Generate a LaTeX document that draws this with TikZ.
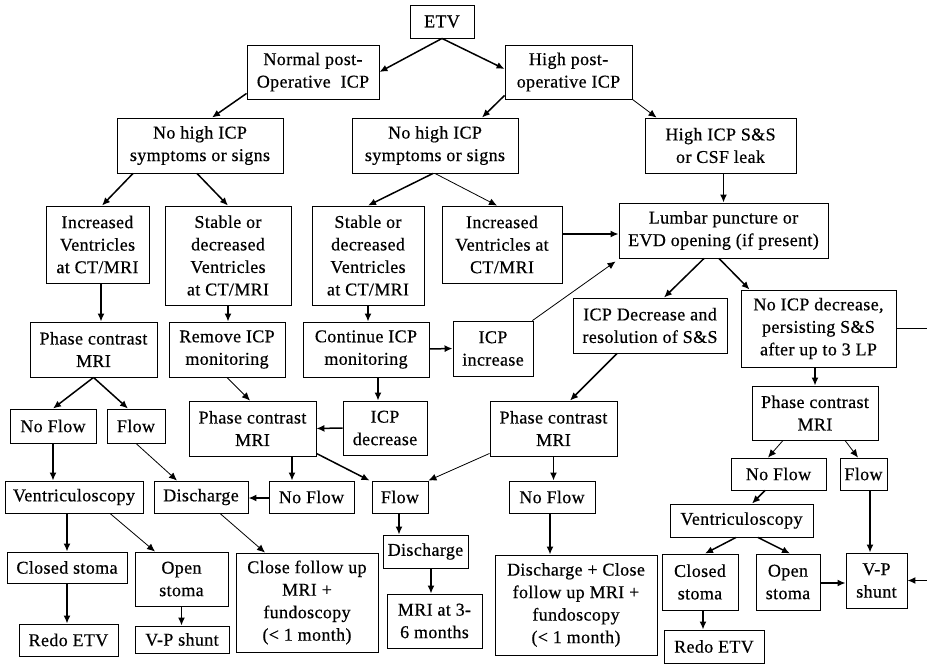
\documentclass[tikz,border=0pt]{standalone}
\usepackage{fontspec}
\setmainfont{Liberation Serif}[FakeBold=0.5,LetterSpace=2]
\usetikzlibrary{arrows.meta}
\tikzset{
  box/.style={draw, line width=0.9pt, inner sep=0pt, align=center,
    font=\fontsize{18}{22.5}\selectfont},
  arr/.style={line width=1.5pt, -{Latex[length=8pt,width=7pt]}},
  tarr/.style={line width=0.8pt, -{Latex[length=8pt,width=7pt]}},
  ln/.style={line width=1.5pt}
}
\newcommand{\bx}[6]{\node[box, minimum width=#4pt, minimum height=#5pt] (#1) at (#2,#3) {#6};}
\begin{document}
\begin{tikzpicture}[x=1pt,y=-1pt]
\useasboundingbox (0,0) rectangle (927,666);
% row 1
\bx{etv}{442}{21.5}{64}{33}{ETV}
\bx{normal}{313}{72}{132}{54}{Normal post-\\Operative\ \ ICP}
\bx{high}{568.5}{72}{127}{54}{High post-\\operative ICP}
\bx{nohighL}{200}{145.5}{166}{55}{No high ICP\\symptoms or signs}
\bx{nohighM}{435}{145.5}{166}{55}{No high ICP\\symptoms or signs}
\bx{highss}{720.5}{145.5}{151}{55}{High ICP S\&S\\or CSF leak}
% row 3
\bx{incL}{97.5}{244.5}{103}{77}{Increased\\Ventricles\\at CT/MRI}
\bx{stabL}{228}{255.5}{126}{99}{Stable or\\decreased\\Ventricles\\at CT/MRI}
\bx{stabM}{368}{255.5}{112}{99}{Stable or\\decreased\\Ventricles\\at CT/MRI}
\bx{incM}{502}{244.5}{120}{77}{Increased\\Ventricles at\\CT/MRI}
\bx{lumbar}{723.5}{230.5}{209}{55}{Lumbar puncture or\\EVD opening (if present)}
% row 4
\bx{phaseL}{93.5}{349.5}{127}{55}{Phase contrast\\MRI}
\bx{remove}{227}{349.5}{116}{55}{Remove ICP\\monitoring}
\bx{cont}{366}{349.5}{126}{55}{Continue ICP\\monitoring}
\bx{icpinc}{493}{348.5}{80}{55}{ICP\\increase}
\bx{icpres}{650}{325.5}{154}{55}{ICP Decrease and\\resolution of S\&S}
\bx{noicp}{818.5}{328.5}{155}{77}{No ICP decrease,\\persisting S\&S\\after up to 3 LP}
\bx{phaseR}{815}{413}{126}{54}{Phase contrast\\MRI}
% row 5
\bx{noflowL}{53}{426}{86}{34}{No Flow}
\bx{flowL}{136}{426}{58}{34}{Flow}
\bx{phaseM}{252.5}{428.5}{127}{55}{Phase contrast\\MRI}
\bx{icpdec}{385}{428}{84}{54}{ICP\\decrease}
\bx{phaseMR}{553.5}{428.5}{127}{55}{Phase contrast\\MRI}
\bx{noflowR}{778.5}{474}{95}{32}{No Flow}
\bx{flowR}{863.5}{474}{47}{32}{Flow}
% row 6
\bx{ventL}{74}{497}{138}{32}{Ventriculoscopy}
\bx{dischL}{201}{497}{94}{32}{Discharge}
\bx{noflowM}{311.5}{497}{85}{32}{No Flow}
\bx{flowM}{400}{497}{56}{32}{Flow}
\bx{noflowMR}{552}{497}{86}{32}{No Flow}
\bx{ventR}{741.5}{520.5}{143}{33}{Ventriculoscopy}
% row 7
\bx{closedL}{67}{567.5}{120}{31}{Closed stoma}
\bx{openL}{181.5}{579}{93}{54}{Open\\stoma}
\bx{closefu}{307}{602.5}{142}{99}{Close follow up\\MRI +\\fundoscopy\\(< 1 month)}
\bx{dischM}{425.5}{551.5}{85}{33}{Discharge}
\bx{mri}{434.5}{621}{95}{54}{MRI at 3-\\6 months}
\bx{dischclose}{576}{605}{162}{100}{Discharge + Close\\follow up MRI +\\fundoscopy\\(< 1 month)}
\bx{closedR}{700}{582}{76}{56}{Closed\\stoma}
\bx{openR}{788}{582}{64}{56}{Open\\stoma}
\bx{vpR}{876.5}{580.5}{61}{55}{V-P\\shunt}
% row 8
\bx{redoL}{68.5}{640}{99}{32}{Redo ETV}
\bx{vpL}{182}{639.5}{94}{27}{V-P shunt}
\bx{redoR}{714}{646.5}{100}{33}{Redo ETV}
\coordinate (edgeA) at (927,328.5);
\coordinate (edgeB) at (927,580.5);
% connectors
\draw[arr] (etv.south) -- (normal.east);
\draw[arr] (etv.south) -- ([yshift=3pt]high.west);
\draw[arr] ([yshift=6pt]normal.south west) -- ([xshift=12pt]nohighL.north);
\draw[arr] ([yshift=4pt]high.south west) -- ([xshift=47pt]nohighM.north);
\draw[tarr] (high.south east) -- ([xshift=12pt]highss.north west);
\draw[arr] ([xshift=3pt]highss.south) -- ([xshift=0pt]lumbar.north);
\draw[arr] ([xshift=-67pt]nohighL.south) -- ([xshift=4.5pt]incL.north);
\draw[arr] ([xshift=-3pt]nohighL.south) -- (stabL.north);
\draw[arr] ([xshift=-2pt]nohighM.south) -- (stabM.north);
\draw[tarr] (nohighM.south) -- ([xshift=-5pt]incM.north);
\draw[arr] ([xshift=3.5pt]incL.south) -- ([xshift=7.5pt]phaseL.north);
\draw[arr] (stabL.south) -- ([xshift=1pt]remove.north);
\draw[arr] (stabM.south) -- ([xshift=2pt]cont.north);
\draw[arr] ([yshift=0.5pt]cont.east) -- (icpinc.west);
\draw[arr] ([yshift=10.5pt]incM.east) -- ([yshift=-3.5pt]lumbar.west);
\draw[tarr] ([xshift=-1pt]icpinc.north east) -- ([xshift=-3pt,yshift=-3pt]lumbar.south west);
\draw[arr] ([xshift=-19.5pt]lumbar.south) -- ([xshift=14pt]icpres.north);
\draw[arr] ([xshift=-4.5pt]lumbar.south) -- ([xshift=9pt]noicp.north west);
\draw[arr] ([xshift=-3.5pt]noicp.south) -- (phaseR.north);
\draw[ln] (noicp.east) -- (edgeA);
\draw[arr] (edgeB) -- (vpR.east);
\draw[arr] (phaseL.south) -- (noflowL.north);
\draw[arr] (phaseL.south) -- ([xshift=-8pt]flowL.north);
\draw[tarr] (remove.south) -- ([xshift=-2.5pt]phaseM.north);
\draw[arr] ([xshift=12pt]cont.south) -- ([xshift=-7pt]icpdec.north);
\draw[arr] (icpdec.west) -- (phaseM.east);
\draw[arr] ([yshift=3pt]phaseM.south east) -- ([xshift=-2pt]flowM.north west);
\draw[tarr] ([yshift=3pt]phaseMR.south west) -- (flowM.north east);
\draw[arr] ([xshift=39.5pt]phaseM.south) -- ([xshift=-19.5pt]noflowM.north);
\draw[arr] ([yshift=-1pt]noflowM.west) -- ([yshift=-1pt]dischL.east);
\draw[arr] (noflowL.south) -- ([xshift=-21pt]ventL.north);
\draw[tarr] (flowL.south) -- ([xshift=-24pt]dischL.north);
\draw[arr] ([xshift=-7pt]ventL.south) -- (closedL.north);
\draw[tarr] ([xshift=36pt]ventL.south) -- ([xshift=-26.5pt]openL.north);
\draw[tarr] ([xshift=19pt]dischL.south) -- ([xshift=-42pt]closefu.north);
\draw[arr] (closedL.south) -- ([xshift=-1.5pt]redoL.north);
\draw[arr] (openL.south) -- ([xshift=-0.5pt]vpL.north);
\draw[arr] ([xshift=-1pt]flowM.south) -- ([xshift=-26.5pt]dischM.north);
\draw[arr] ([xshift=5.5pt]dischM.south) -- ([xshift=-3.5pt]mri.north);
\draw[arr] (phaseMR.south) -- ([xshift=1.5pt]noflowMR.north);
\draw[arr] ([xshift=-2pt]noflowMR.south) -- ([xshift=-26pt]dischclose.north);
\draw[arr] ([xshift=-33pt]icpres.south) -- ([xshift=16.5pt]phaseMR.north);
\draw[tarr] ([xshift=-32pt]phaseR.south) -- ([xshift=-10.5pt]noflowR.north);
\draw[tarr] ([xshift=30pt]phaseR.south) -- ([xshift=-5.5pt]flowR.north);
\draw[arr] ([xshift=-13.5pt]noflowR.south) -- ([xshift=10.5pt]ventR.north);
\draw[arr] ([xshift=-5.5pt]ventR.south) -- ([xshift=5pt]closedR.north);
\draw[arr] ([xshift=16.5pt]ventR.south) -- ([xshift=2pt]openR.north);
\draw[arr] ([xshift=6.5pt]flowR.south) -- ([xshift=-6.5pt]vpR.north);
\draw[arr] ([yshift=-1pt]openR.east) -- ([yshift=-2.5pt]vpR.west);
\draw[arr] ([xshift=3pt]closedR.south) -- ([xshift=-11pt]redoR.north);
\end{tikzpicture}
\end{document}
